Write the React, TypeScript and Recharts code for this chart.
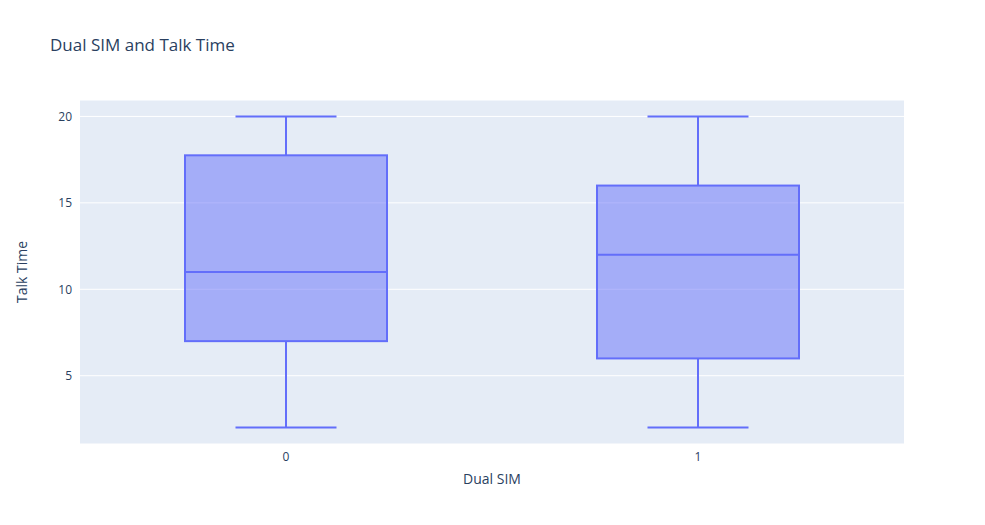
import { ComposedChart, Bar, XAxis, YAxis, CartesianGrid } from 'recharts'

const categories = ['0', '1']
const minValues = [2, 2]
const q1Values = [7, 6]
const medianValues = [11, 12]
const q3Values = [17.75, 16]
const maxValues = [20, 20]
const yTicks = [5, 10, 15, 20]

const data = categories.map((name, i) => ({
  name,
  range: [minValues[i], maxValues[i]],
  min: minValues[i],
  q1: q1Values[i],
  median: medianValues[i],
  q3: q3Values[i],
  max: maxValues[i],
}))

const STROKE = '#636efa'
const FONT = '"Open Sans", "Noto Sans", sans-serif'

function BoxShape(props: any) {
  const { x, y, width, height, payload } = props
  const { min, q1, median, q3, max } = payload
  const ppu = height / (max - min)
  const py = (v: number) => y + (max - v) * ppu
  const cx = x + width / 2
  const capHalf = width / 4
  return (
    <g>
      <line x1={cx} x2={cx} y1={py(max)} y2={py(q3)} stroke={STROKE} strokeWidth={2} />
      <line x1={cx} x2={cx} y1={py(q1)} y2={py(min)} stroke={STROKE} strokeWidth={2} />
      <line x1={cx - capHalf} x2={cx + capHalf} y1={py(max)} y2={py(max)} stroke={STROKE} strokeWidth={2} />
      <line x1={cx - capHalf} x2={cx + capHalf} y1={py(min)} y2={py(min)} stroke={STROKE} strokeWidth={2} />
      <rect
        x={x}
        y={py(q3)}
        width={width}
        height={py(q1) - py(q3)}
        fill="rgba(99,110,250,0.5)"
        stroke={STROKE}
        strokeWidth={2}
      />
      <line x1={x} x2={x + width} y1={py(median)} y2={py(median)} stroke={STROKE} strokeWidth={2} />
    </g>
  )
}

export default function App() {
  return (
    <div style={{ position: 'relative', width: 985, height: 525, margin: '-8px 0 0 -8px', background: '#fff', fontFamily: FONT }}>
      <div style={{ position: 'absolute', left: 50, top: 33, fontSize: 17, color: '#2a3f5f' }}>
        Dual SIM and Talk Time
      </div>
      <ComposedChart
        width={985}
        height={525}
        data={data}
        margin={{ top: 100, right: 81, bottom: 0, left: 0 }}
      >
        <CartesianGrid vertical={false} stroke="#ffffff" strokeWidth={1} fill="#e5ecf6" />
        <XAxis
          dataKey="name"
          axisLine={false}
          tickLine={false}
          height={81}
          tick={{ fontSize: 12, fill: '#2a3f5f', fontFamily: FONT }}
          label={{ value: 'Dual SIM', position: 'insideTop', offset: 30, fontSize: 14, fill: '#2a3f5f', fontFamily: FONT }}
        />
        <YAxis
          type="number"
          domain={[1.05, 20.95]}
          ticks={yTicks}
          allowDataOverflow
          axisLine={false}
          tickLine={false}
          width={80}
          tick={{ fontSize: 12, fill: '#2a3f5f', fontFamily: FONT }}
          label={{ value: 'Talk Time', angle: -90, position: 'insideLeft', offset: 22, fontSize: 14, fill: '#2a3f5f', fontFamily: FONT, style: { textAnchor: 'middle' } }}
        />
        <Bar dataKey="range" barSize={202} shape={<BoxShape />} isAnimationActive={false} />
      </ComposedChart>
    </div>
  )
}
